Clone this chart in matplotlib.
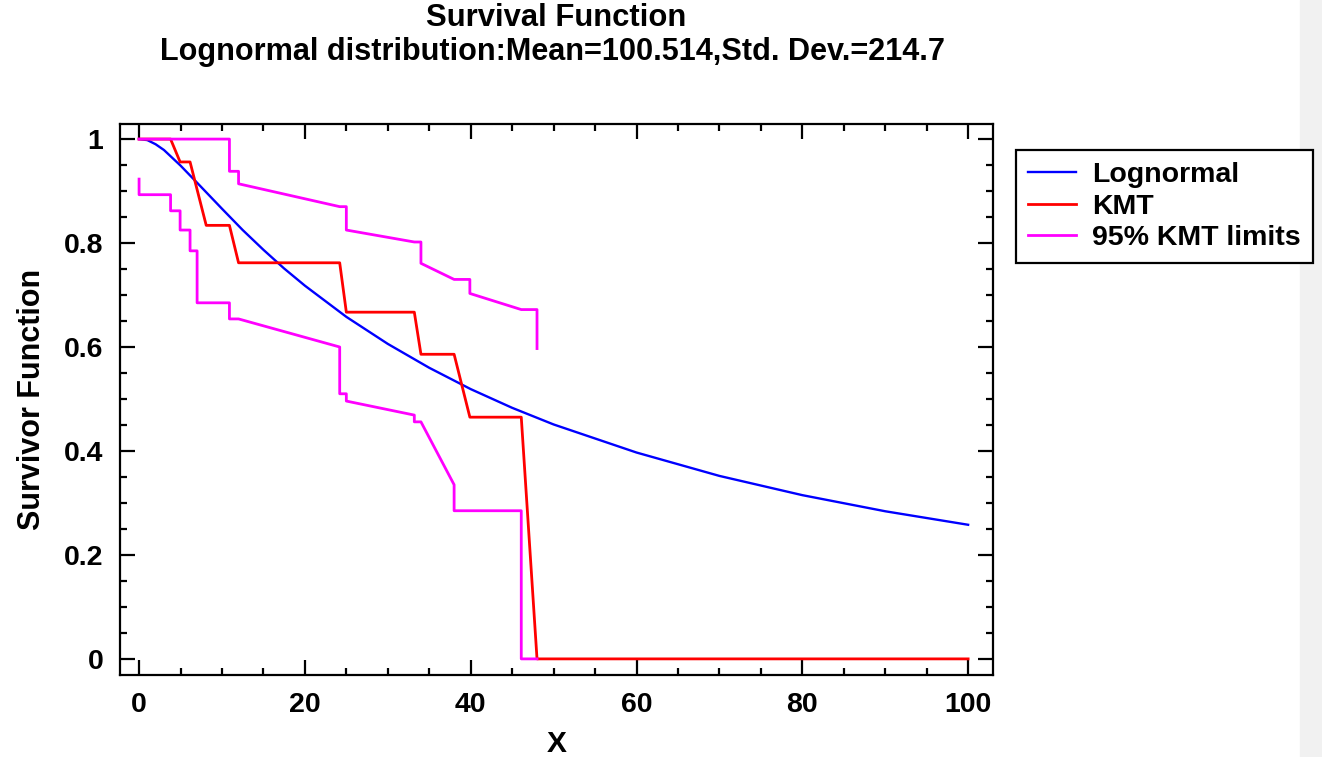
import matplotlib
matplotlib.use("Agg")
import matplotlib.pyplot as plt
from matplotlib.ticker import MultipleLocator, FuncFormatter
from matplotlib.patches import Rectangle

plt.rcParams['font.family'] = ['Liberation Sans', 'DejaVu Sans']
plt.rcParams['font.weight'] = 'bold'

# fitted lognormal survivor curve
logn_x = [0, 1, 2, 3, 5, 7, 10, 12.5, 15, 17.5, 20, 25, 30, 35, 40, 45, 50, 60, 70, 80, 90, 100]
logn_y = [1.0, 0.998, 0.990, 0.979, 0.949, 0.916, 0.866, 0.825, 0.787, 0.751, 0.718, 0.658,
          0.606, 0.560, 0.519, 0.483, 0.451, 0.397, 0.352, 0.315, 0.284, 0.258]

# Kaplan-Meier estimate
kmt_x = [0, 3.8, 4.95, 6.15, 8.1, 10.9, 12.0, 24.2, 25.0, 33.2, 34.0, 38.0, 39.9, 46.1, 48.0, 100]
kmt_y = [1, 1, 0.956, 0.956, 0.834, 0.834, 0.762, 0.762, 0.667, 0.667, 0.586, 0.586,
         0.465, 0.465, 0.0, 0.0]

# 95% limits
upper_x = [0, 10.9, 10.9, 12.0, 12.0, 24.2, 25.0, 25.0, 33.2, 34.0, 34.0, 38.0, 39.9, 39.9,
           46.1, 48.0, 48.0]
upper_y = [1, 1, 0.938, 0.938, 0.914, 0.870, 0.870, 0.825, 0.802, 0.802, 0.761, 0.730, 0.730,
           0.703, 0.672, 0.672, 0.597]
lower_x = [0, 0, 3.8, 3.8, 4.95, 4.95, 6.15, 6.15, 7.0, 7.0, 10.9, 10.9, 12.0, 24.2, 24.2,
           25.0, 25.0, 33.2, 33.2, 34.0, 38.0, 38.0, 46.1, 46.1, 48.0]
lower_y = [0.923, 0.893, 0.893, 0.862, 0.862, 0.825, 0.825, 0.785, 0.785, 0.685, 0.685, 0.654,
           0.654, 0.600, 0.510, 0.510, 0.496, 0.469, 0.456, 0.456, 0.335, 0.285, 0.285, 0.0, 0.0]

fig = plt.figure(figsize=(13.22, 7.57), dpi=100)
# faint gray strip at the right edge
fig.patches.append(Rectangle((1300 / 1322, 0), 22 / 1322, 1, transform=fig.transFigure,
                             color='#f1f1f1', zorder=0))

ax = fig.add_axes([120 / 1322, 1 - 675 / 757, 873 / 1322, 551 / 757])

ax.plot(logn_x, logn_y, color='#0000ff', lw=1.7, label='Lognormal')
ax.plot(kmt_x, kmt_y, color='#ff0000', lw=2.0, label='KMT')
ax.plot(upper_x, upper_y, color='#ff00ff', lw=2.0, label='95% KMT limits')
ax.plot(lower_x, lower_y, color='#ff00ff', lw=2.0)

ax.set_xlim(-2.3, 103.0)
ax.set_ylim(-0.031, 1.029)

ax.xaxis.set_major_locator(MultipleLocator(20))
ax.xaxis.set_minor_locator(MultipleLocator(5))
ax.yaxis.set_major_locator(MultipleLocator(0.2))
ax.yaxis.set_minor_locator(MultipleLocator(0.05))
ax.yaxis.set_major_formatter(FuncFormatter(lambda v, p: '{:g}'.format(round(v, 2))))

ax.tick_params(which='both', direction='in', top=True, right=True, width=1.6)
ax.tick_params(which='major', length=11, labelsize=20.5, pad=12)
ax.tick_params(which='minor', length=5)
for lbl in ax.get_xticklabels() + ax.get_yticklabels():
    lbl.set_fontweight('bold')
for s in ax.spines.values():
    s.set_linewidth(1.6)

ax.set_xlabel('X', fontsize=21.5, fontweight='bold', labelpad=9)
ax.set_ylabel('Survivor Function', fontsize=22, fontweight='bold', labelpad=12)

fig.text(556 / 1322, 1 - 18 / 757, 'Survival Function', ha='center', va='center',
         fontsize=22.3, fontweight='bold')
fig.text(553 / 1322, 1 - 52 / 757,
         'Lognormal distribution:Mean=100.514,Std. Dev.=214.7',
         ha='center', va='center', fontsize=22.1, fontweight='bold')

leg = fig.legend(loc='upper left', bbox_to_anchor=(1016 / 1322, 1 - 150 / 757),
                 fontsize=20.5, frameon=True, fancybox=False, handlelength=1.7,
                 handletextpad=0.55, labelspacing=0.2, borderpad=0.42, borderaxespad=0)
leg.get_frame().set_edgecolor('black')
leg.get_frame().set_linewidth(1.6)
leg.get_frame().set_alpha(1)
for t in leg.get_texts():
    t.set_fontweight('bold')

fig.savefig('out.png', dpi=100)
